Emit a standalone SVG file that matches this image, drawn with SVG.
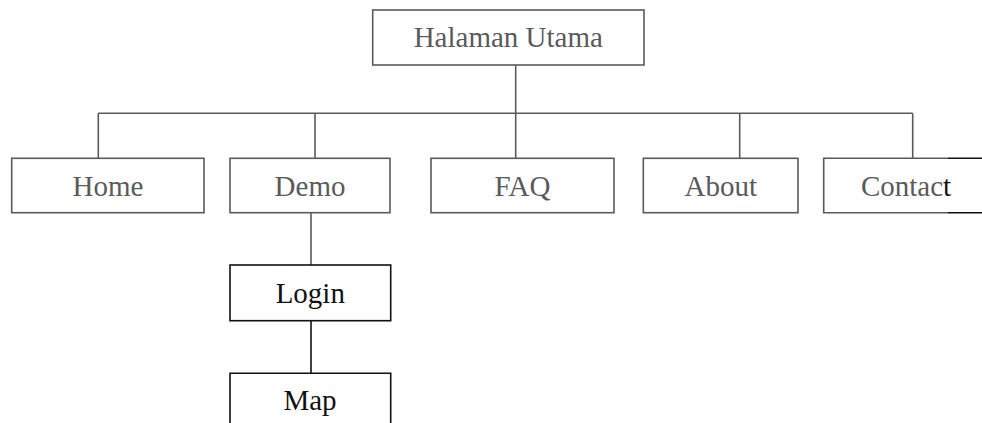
<svg xmlns="http://www.w3.org/2000/svg" width="982" height="423" viewBox="0 0 982 423">
  <style>
    .box { fill: none; stroke: #5a5a5a; stroke-width: 1.6; }
    .box-dark { fill: none; stroke: #111; stroke-width: 1.6; }
    .link { fill: none; stroke: #5a5a5a; stroke-width: 1.6; }
    .link-dark { fill: none; stroke: #111; stroke-width: 1.6; }
    .label { font-family: "Liberation Serif", "Times New Roman", serif; font-size: 29px; fill: #5a5a5a; text-anchor: middle; }
    .label-dark { fill: #111; }
  </style>
  <rect width="982" height="423" fill="#ffffff"/>

  <g id="connectors">
    <path class="link" d="M515.7 65 V113.3"/>
    <path class="link" d="M98.3 113.3 H912.7"/>
    <path class="link" d="M98.3 113.3 V158.3"/>
    <path class="link" d="M315 113.3 V158.3"/>
    <path class="link" d="M515.7 113.3 V158.3"/>
    <path class="link" d="M739.7 113.3 V158.3"/>
    <path class="link" d="M912.7 113.3 V158.3"/>
    <path class="link" d="M311 212.7 V265"/>
    <path class="link-dark" d="M311 320.7 V373.3"/>
  </g>

  <g id="halaman-utama">
    <rect class="box" x="372.7" y="10" width="271.3" height="55"/>
    <text class="label" x="508.3" y="46.7">Halaman Utama</text>
  </g>

  <g id="home">
    <rect class="box" x="11.7" y="158.3" width="192.3" height="54.4"/>
    <text class="label" x="108" y="196">Home</text>
  </g>

  <g id="demo">
    <rect class="box" x="230" y="158.3" width="160" height="54.4"/>
    <text class="label" x="310" y="196">Demo</text>
  </g>

  <g id="faq">
    <rect class="box" x="431" y="158.3" width="183" height="54.4"/>
    <text class="label" x="522.5" y="196">FAQ</text>
  </g>

  <g id="about">
    <rect class="box" x="643.3" y="158.3" width="154.7" height="54.4"/>
    <text class="label" x="720.7" y="196">About</text>
  </g>

  <g id="contact">
    <path class="box" d="M948 158.3 H823.7 V212.7 H948"/>
    <path class="box-dark" d="M948 158.3 H982 M948 212.7 H982"/>
    <text class="label" x="906" y="196">Contac<tspan class="label-dark">t</tspan></text>
  </g>

  <g id="login">
    <rect class="box-dark" x="230" y="265" width="160.7" height="55.7"/>
    <text class="label label-dark" x="310.3" y="303">Login</text>
  </g>

  <g id="map">
    <path class="box-dark" d="M230 430 V373.3 H390.7 V430"/>
    <text class="label label-dark" x="310" y="410">Map</text>
  </g>
</svg>
